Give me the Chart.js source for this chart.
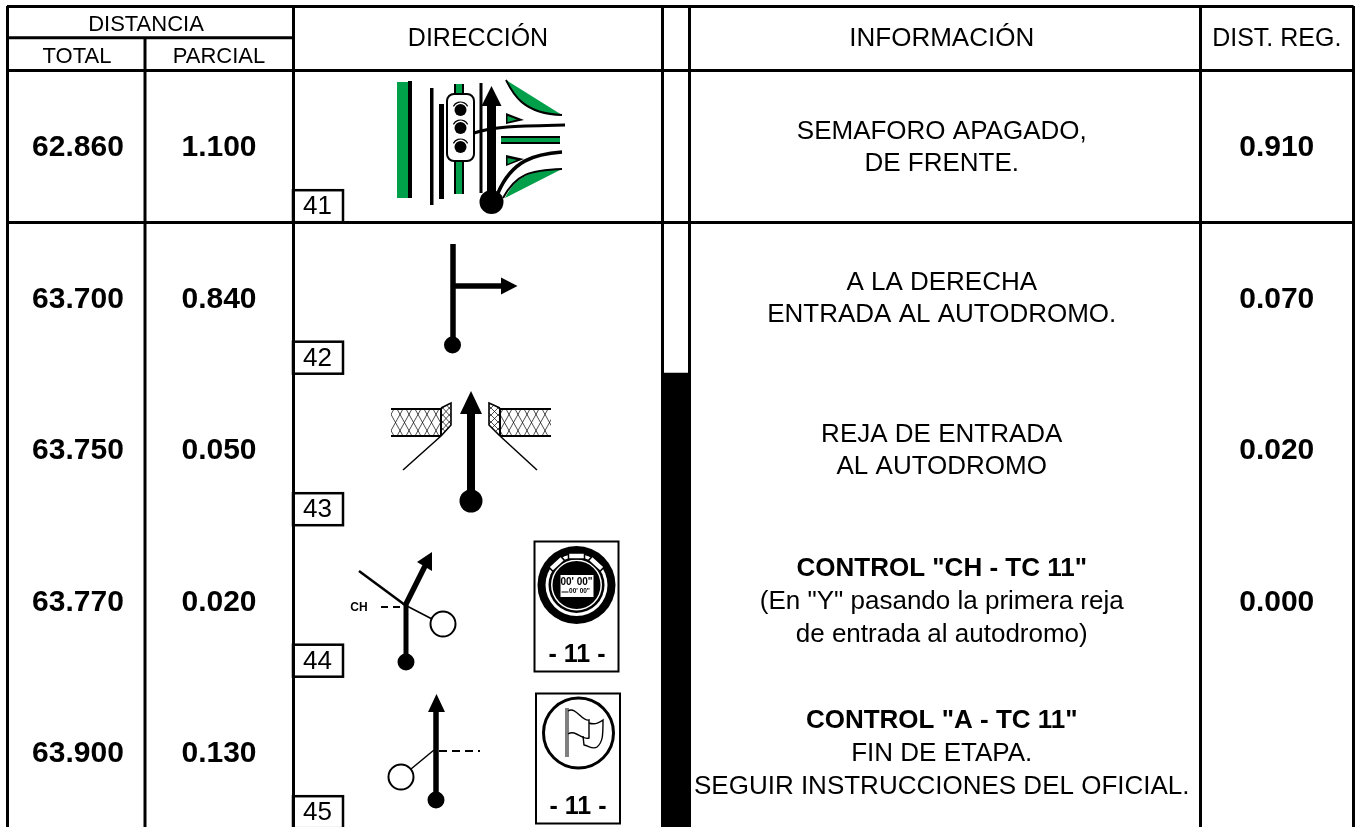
<!DOCTYPE html>
<html>
<head>
<meta charset="utf-8">
<title>Libro de ruta</title>
<script src="https://cdn.jsdelivr.net/npm/chart.js@4"></script>
<style>
  html, body { margin: 0; padding: 0; background: #fff; overflow: hidden; }
  canvas { display: block; }
</style>
</head>
<body>
<canvas id="road" width="1360" height="827"></canvas>
<script>
const rows = [41, 42, 43, 44, 45];
const totals = [62.86, 63.7, 63.75, 63.77, 63.9];
const partials = [1.1, 0.84, 0.05, 0.02, 0.13];
const regDist = [0.91, 0.07, 0.02, 0, null];
const bandFilled = [false, false, true, true, true];
const info = [
  ["SEMAFORO APAGADO,", "DE FRENTE."],
  ["A LA DERECHA", "ENTRADA AL AUTODROMO."],
  ["REJA DE ENTRADA", "AL AUTODROMO"],
  ['CONTROL "CH - TC 11"', '(En "Y" pasando la primera reja', "de entrada al autodromo)"],
  ['CONTROL "A - TC 11"', "FIN DE ETAPA.", "SEGUIR INSTRUCCIONES DEL OFICIAL."]
];
const infoBoldFirst = [false, false, false, true, true];
const panelLabels = ["- 11 -", "- 11 -"];

// page layout, x scale runs in page pixels, y scale in rows
const edges = [7, 293, 662, 689.5, 1200, 1353.5];
const splitX = 145;
const pageTop = 6, rowTop = 70.7, rowH = 151.5;
const FONT = '"Liberation Sans", Arial, sans-serif';
const GREEN = "#00a04a";

function line(c, pts, w, dash) {
  c.beginPath();
  c.lineWidth = w;
  c.setLineDash(dash || []);
  pts.forEach((p, i) => i ? c.lineTo(p[0], p[1]) : c.moveTo(p[0], p[1]));
  c.stroke();
  c.setLineDash([]);
}
function poly(c, pts, fill) {
  c.beginPath();
  pts.forEach((p, i) => i ? c.lineTo(p[0], p[1]) : c.moveTo(p[0], p[1]));
  c.closePath();
  c.fillStyle = fill || "#000";
  c.fill();
}
function ball(c, x, y, r) {
  c.beginPath();
  c.arc(x, y, r, 0, Math.PI * 2);
  c.fillStyle = "#000";
  c.fill();
}
function ring(c, x, y, r, w) {
  c.beginPath();
  c.arc(x, y, r, 0, Math.PI * 2);
  c.fillStyle = "#fff";
  c.fill();
  c.lineWidth = w;
  c.stroke();
}
function text(c, s, x, y, font, align) {
  c.font = font;
  c.textAlign = align || "center";
  c.textBaseline = "middle";
  c.fillStyle = "#000";
  c.fillText(s, x, y);
}

function drawLightIcon(c) {
  c.fillStyle = GREEN;
  c.fillRect(397, 82, 11, 116);
  c.fillStyle = "#000";
  c.fillRect(408, 81, 4, 117);
  c.fillRect(430, 88, 3.5, 117);
  c.fillRect(439, 104, 5, 95);
  c.fillRect(479.5, 83, 3, 110);
  c.fillStyle = GREEN;
  c.fillRect(455, 84, 8, 110);
  c.fillStyle = "#000";
  c.fillRect(454, 84, 2, 110);
  c.fillRect(462, 84, 2, 110);
  // corners of the junction
  c.beginPath();
  c.moveTo(506, 80);
  c.bezierCurveTo(512, 92, 522, 114, 562, 115);
  c.lineTo(506, 80);
  c.fillStyle = GREEN;
  c.fill();
  c.beginPath();
  c.moveTo(506, 80);
  c.bezierCurveTo(512, 92, 522, 114, 562, 115);
  c.lineWidth = 2;
  c.stroke();
  c.beginPath();
  c.moveTo(505, 198);
  c.bezierCurveTo(516, 176, 530, 170, 562, 169);
  c.lineTo(505, 198);
  c.fill();
  c.beginPath();
  c.moveTo(503, 198);
  c.bezierCurveTo(516, 174, 530, 170, 562, 169);
  c.stroke();
  poly(c, [[506, 113], [506, 124], [524, 120]], "#000");
  poly(c, [[507.5, 116], [507.5, 122], [517, 119.5]], GREEN);
  poly(c, [[506, 155], [506, 166], [524, 159]], "#000");
  poly(c, [[507.5, 158], [507.5, 164], [517, 160]], GREEN);
  c.fillStyle = "#000";
  c.fillRect(501, 136, 59, 8);
  c.fillStyle = GREEN;
  c.fillRect(501, 138, 59, 4);
  c.beginPath();
  c.moveTo(474, 133);
  c.bezierCurveTo(495, 126, 520, 126, 565, 125);
  c.lineWidth = 3;
  c.stroke();
  c.beginPath();
  c.moveTo(498, 193);
  c.bezierCurveTo(512, 160, 535, 154, 562, 152);
  c.lineWidth = 3.5;
  c.stroke();
  // signal head
  c.beginPath();
  c.roundRect(447, 94, 27, 67, 7);
  c.fillStyle = "#fff";
  c.fill();
  c.lineWidth = 2;
  c.stroke();
  [109, 127, 146].forEach(y => {
    ball(c, 460.5, y + 1, 6);
    c.beginPath();
    c.arc(460.5, y + 1, 8, Math.PI * 1.15, Math.PI * 1.85);
    c.lineWidth = 1.2;
    c.stroke();
  });
  // main arrow
  c.fillStyle = "#000";
  c.fillRect(487, 103, 9, 98);
  poly(c, [[491.5, 86], [501.5, 106], [481.5, 106]]);
  ball(c, 491.5, 202, 12);
}

function drawRightIcon(c) {
  line(c, [[453, 244], [453, 345]], 5.5);
  ball(c, 452.5, 345, 8.5);
  line(c, [[453, 286], [503, 286]], 5.5);
  poly(c, [[501, 277.5], [517.5, 286], [501, 294.5]]);
}

function fence(c, x0, x1) {
  c.save();
  c.beginPath();
  c.rect(x0, 409, x1 - x0, 27);
  c.clip();
  for (let x = x0 - 30; x < x1 + 30; x += 9) {
    line(c, [[x, 436], [x + 15, 409]], 0.7);
    line(c, [[x, 409], [x + 15, 436]], 0.7);
  }
  c.restore();
  line(c, [[x0, 409], [x1, 409]], 2);
  line(c, [[x0, 436], [x1, 436]], 2);
}
function drawGateIcon(c) {
  fence(c, 391, 441);
  fence(c, 500, 551);
  [[441, 451], [500, 489]].forEach(([a, b]) => {
    c.save();
    c.beginPath();
    c.moveTo(a, 408); c.lineTo(b, 403); c.lineTo(b, 425); c.lineTo(a, 436);
    c.closePath();
    c.clip();
    for (let y = 392; y < 445; y += 7) {
      line(c, [[a, y], [b, y + 11]], 0.7);
      line(c, [[a, y + 11], [b, y]], 0.7);
    }
    c.restore();
    line(c, [[a, 408], [b, 403], [b, 425], [a, 436]], 1.6);
    line(c, [[a, 408], [a, 436]], 2);
  });
  line(c, [[441, 436], [403, 470]], 1.5);
  line(c, [[500, 436], [537, 470]], 1.5);
  line(c, [[471, 412], [471, 500]], 8);
  poly(c, [[471, 391], [482, 414], [460, 414]]);
  ball(c, 471, 501, 11.5);
}

function drawYIcon(c) {
  line(c, [[359, 571], [405, 605]], 2.5);
  line(c, [[405, 605], [432, 619]], 1.5);
  ring(c, 443, 624, 12.5, 2);
  line(c, [[406, 605], [406, 663]], 5);
  ball(c, 406, 662, 8.5);
  line(c, [[405, 606], [425, 566]], 5.5);
  poly(c, [[432, 552], [432, 571], [417, 562]]);
  line(c, [[381, 607], [403, 607]], 2, [7, 5]);
  text(c, "CH", 359, 608, "bold 12px " + FONT);
}

function drawForkIcon(c) {
  line(c, [[436, 710], [436, 801]], 5.5);
  ball(c, 436, 800, 8.5);
  poly(c, [[436.5, 694], [445, 712], [428, 712]]);
  line(c, [[411, 769], [434, 750]], 1.5);
  ring(c, 401, 777, 12.5, 2);
  line(c, [[439, 751], [480, 751]], 2, [8, 5]);
}

function drawWatchPanel(c) {
  c.strokeStyle = "#000";
  c.lineWidth = 2;
  c.strokeRect(534.5, 541.5, 84, 130);
  const x = 576.5, y = 585;
  ball(c, x, y, 39);
  c.beginPath();
  c.arc(x, y, 31, 0, Math.PI * 2);
  c.fillStyle = "#fff";
  c.fill();
  ball(c, x, y, 28);
  c.beginPath();
  c.arc(x, y, 25.5, 0, Math.PI * 2);
  c.fillStyle = "#fff";
  c.fill();
  ball(c, x, y, 24);
  c.fillStyle = "#fff";
  c.fillRect(x - 16, 575, 33, 22);
  c.strokeStyle = "#000";
  c.lineWidth = 1.5;
  // crown and side buttons
  [0, -0.75, 0.75].forEach(a => {
    c.save();
    c.translate(x, y);
    c.rotate(a);
    c.fillStyle = "#fff";
    c.fillRect(-8, -32, 16, 6);
    c.strokeRect(-8, -32, 16, 6);
    c.restore();
  });
  text(c, "00' 00\"", x, 582, "bold 10px " + FONT);
  text(c, "00' 00\"", x + 3, 591.5, "bold 6.5px " + FONT);
  line(c, [[x - 15, 592], [x - 8, 592]], 1);
  text(c, panelLabels[0], 577, 655, "bold 25px " + FONT);
}

function drawFlagPanel(c) {
  c.strokeStyle = "#000";
  c.lineWidth = 2;
  c.strokeRect(536, 693.5, 84, 130);
  c.beginPath();
  c.arc(578.5, 733, 35, 0, Math.PI * 2);
  c.lineWidth = 3;
  c.stroke();
  line(c, [[566, 708], [566, 757]], 1);
  line(c, [[568, 708], [568, 757]], 1);
  c.lineWidth = 1.4;
  c.beginPath();
  c.moveTo(568, 711);
  c.bezierCurveTo(576, 706, 582, 722, 589, 720);
  c.lineTo(589, 738);
  c.bezierCurveTo(582, 741, 576, 729, 568, 734);
  c.stroke();
  c.beginPath();
  c.moveTo(589, 723);
  c.bezierCurveTo(594, 725, 599, 723, 603, 720);
  c.bezierCurveTo(603, 735, 603, 742, 597, 747);
  c.bezierCurveTo(593, 750, 589, 746, 584, 745);
  c.lineTo(583, 736);
  c.stroke();
  text(c, panelLabels[1], 578, 807, "bold 25px " + FONT);
}

const roadPlugin = {
  id: "roadPlugin",
  afterDatasetsDraw(chart) {
    const c = chart.ctx;
    const xs = chart.scales.x, ys = chart.scales.y;
    const x = v => xs.getPixelForValue(v);
    const rowY = i => ys.getPixelForValue(i + 0.5);
    const infoX = (edges[3] + edges[4]) / 2 - 3, regX = (edges[4] + edges[5]) / 2;
    c.save();
    c.strokeStyle = "#000";

    // header rules that do not cross the whole table
    const midY = ys.getPixelForValue(-33 / rowH);
    line(c, [[x(edges[0]), midY], [x(edges[1]), midY]], 3);
    line(c, [[x(splitX), midY], [x(splitX), chart.chartArea.bottom]], 3);

    const head = "22px " + FONT;
    const headMid = ys.getPixelForValue(-32 / rowH);
    text(c, "DISTANCIA", 146, 25, head);
    text(c, "TOTAL", 77, 57, head);
    text(c, "PARCIAL", 219, 57, head);
    text(c, "DIRECCIÓN", 478, headMid, "25px " + FONT);
    text(c, "INFORMACIÓN", infoX, headMid, "26px " + FONT);
    text(c, "DIST. REG.", regX, headMid, "25px " + FONT);

    rows.forEach((r, i) => {
      const y = rowY(i);
      const num = "bold 30px " + FONT;
      text(c, totals[i].toFixed(3), 78, y + 1.5, num);
      text(c, partials[i].toFixed(3), 219, y + 1.5, num);
      if (regDist[i] !== null) text(c, regDist[i].toFixed(3), regX, y + 1.5, num);

      const lines = info[i];
      const pitch = lines.length > 2 ? 33 : 32;
      lines.forEach((s, k) => {
        const f = (infoBoldFirst[i] && k === 0 ? "bold " : "") + "26px " + FONT;
        text(c, s, infoX, y + 1 + (k - (lines.length - 1) / 2) * pitch, f);
      });

      // number tag in the corner of the cell
      const b = ys.getPixelForValue(i + 1);
      c.lineWidth = 2.5;
      c.strokeRect(x(edges[1]), b - 32, 50, 32);
      text(c, String(r), x(edges[1]) + 10, b - 15, "26px " + FONT, "left");
    });

    drawLightIcon(c);
    drawRightIcon(c);
    drawGateIcon(c);
    drawYIcon(c);
    drawForkIcon(c);
    drawWatchPanel(c);
    drawFlagPanel(c);
    c.restore();
  }
};

const band = rows
  .map((r, i) => bandFilled[i] ? { x: [edges[2], edges[3]], y: i + 0.5 } : null)
  .filter(d => d);

new Chart(document.getElementById("road").getContext("2d"), {
  type: "bar",
  data: {
    datasets: [{ label: "Tramo", data: band, backgroundColor: "#000", borderWidth: 0, barThickness: rowH + 1 }]
  },
  plugins: [roadPlugin],
  options: {
    indexAxis: "y",
    responsive: false,
    animation: false,
    layout: { padding: { top: pageTop, left: edges[0], right: 1360 - edges[5], bottom: 0 } },
    plugins: { legend: { display: false }, tooltip: { enabled: false } },
    scales: {
      x: {
        type: "linear",
        min: edges[0],
        max: edges[5],
        border: { display: false },
        ticks: { display: false },
        grid: { color: "#000", lineWidth: 3, drawTicks: false },
        afterBuildTicks: s => { s.ticks = edges.map(v => ({ value: v })); }
      },
      y: {
        type: "linear",
        reverse: true,
        offset: false,
        min: (pageTop - rowTop) / rowH,
        max: (827 - rowTop) / rowH,
        border: { display: false },
        ticks: { display: false },
        grid: { color: "#000", lineWidth: 3, drawTicks: false, offset: false },
        afterBuildTicks: s => { s.ticks = [s.min, 0, 1].map(v => ({ value: v })); }
      }
    }
  }
});
</script>
</body>
</html>
